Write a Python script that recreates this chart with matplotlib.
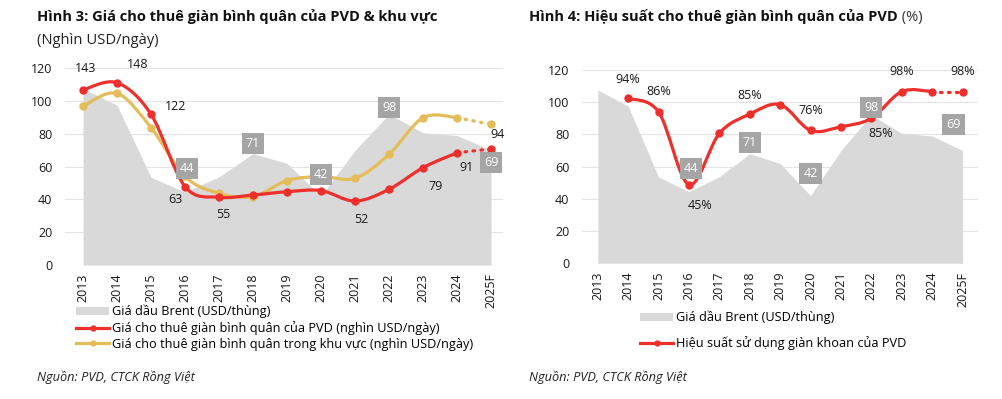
import numpy as np
import matplotlib
matplotlib.use("Agg")
import matplotlib.pyplot as plt
from matplotlib.path import Path
from matplotlib.patches import PathPatch, Patch
from matplotlib.lines import Line2D

plt.rcParams['font.family'] = ['Open Sans', 'DejaVu Sans']

# ---------------------------------------------------------
# data
# ---------------------------------------------------------
years = ["2013", "2014", "2015", "2016", "2017", "2018", "2019",
         "2020", "2021", "2022", "2023", "2024", "2025F"]

brent = [107.6, 97.5, 53.5, 44.5, 53.8, 68.0, 62.0, 42.0, 70.0, 92.0, 80.7, 79.0, 70.0]

# left chart: plotted heights (chart units) and label text
pvd_rate = [106.8, 111.2, 91.9, 47.8, 41.3, 42.7, 44.7, 45.4, 39.0, 46.2, 59.4, 68.5, 70.8]
region_rate = [97.0, 104.7, 83.8, 54.0, 43.7, 41.7, 51.5, 54.0, 52.9, 67.5, 89.9, 89.9, 85.8]
pvd_rate_lbl_idx = [0, 1, 2, 3, 4, 8, 10, 11, 12]
pvd_rate_lbl = ["143", "148", "122", "63", "55", "52", "79", "91", "94"]

# right chart: utilization (chart units), 2013 has no value
util_years = years[1:]
util = [102.4, 94.0, 48.8, 80.7, 92.6, 98.5, 82.5, 84.8, 90.0, 106.6, 106.6, 106.6]
util_lbl_idx = [1, 2, 3, 5, 7, 9, 10, 12]
util_lbl = ["94%", "86%", "45%", "85%", "76%", "85%", "98%", "98%"]

brent_lbl_idx = [3, 5, 7, 9, 12]
brent_lbl = ["44", "71", "42", "98", "69"]

RED = "#ee2f2b"
YEL = "#e4bd59"
AREA = "#d9d9d9"
BOX = "#a5a5a5"
TXT = "#1a1a1a"
FS = 9

# label offsets in pixels (dx, dy), up is positive
off_left_red = [(3, 21), (21, 18), (25, 8), (-10, -13), (4, -17), (6, -18), (12, -19), (9, -15), (6, 14)]
off_left_box = [(2, 24), (0, 10), (0, 22), (0, 7), (0, -12)]
off_right_red = [(0, 19), (0, 20), (11, -21), (0, 19), (0, 20), (9, -15), (0, 20), (0, 20)]
off_right_box = [(2, 23), (0, 11), (0, 22), (0, 8), (-9, 26)]

W, H = 1003, 399
fig = plt.figure(figsize=(W / 100, H / 100), dpi=100)


def ax_rect(x0, x1, ytop, ybot):
    return [x0 / W, 1 - ybot / H, (x1 - x0) / W, (ybot - ytop) / H]


def smooth_path(xs, ys):
    # excel-like smoothed line as cubic bezier through the points
    n = len(xs)
    verts = [(xs[0], ys[0])]
    codes = [Path.MOVETO]
    for i in range(n - 1):
        a = max(i - 1, 0)
        b = min(i + 2, n - 1)
        c1 = (xs[i] + (xs[i + 1] - xs[a]) / 6, ys[i] + (ys[i + 1] - ys[a]) / 6)
        c2 = (xs[i + 1] - (xs[b] - xs[i]) / 6, ys[i + 1] - (ys[b] - ys[i]) / 6)
        verts += [c1, c2, (xs[i + 1], ys[i + 1])]
        codes += [Path.CURVE4] * 3
    return Path(verts, codes)


def draw_series(ax, xs, ys, color):
    xs = list(xs)
    ys = list(ys)
    ax.add_patch(PathPatch(smooth_path(xs[:-1], ys[:-1]), fill=False,
                           edgecolor=color, lw=2.3, zorder=4, capstyle='round'))
    ax.plot(xs[-2:], ys[-2:], color=color, lw=2.3, ls=(0, (0.5, 2.0)),
            dash_capstyle='round', zorder=4)
    ax.plot(xs, ys, 'o', color=color, ms=6, zorder=5, mec='none')


def setup(ax, xmax):
    ax.set_ylim(0, 120)
    ax.set_xlim(-0.53, xmax)
    ax.set_yticks(range(0, 121, 20))
    ax.set_xticks(range(len(years)))
    ax.set_xticklabels(years, rotation=90)
    ax.tick_params(axis='both', length=0, labelsize=FS, colors=TXT)
    ax.tick_params(axis='y', pad=9)
    ax.tick_params(axis='x', pad=6)
    ax.grid(axis='y', color='#e4e4e4', lw=0.8)
    ax.set_axisbelow(True)
    for s in ax.spines.values():
        s.set_visible(False)


def box_labels(ax, idx, texts, offs):
    for i, t, (dx, dy) in zip(idx, texts, offs):
        ax.annotate(t, (i, brent[i]), xytext=(dx, dy), textcoords='offset pixels',
                    ha='center', va='center', fontsize=FS, color='white', zorder=6,
                    bbox=dict(boxstyle='square,pad=0.32', fc=BOX, ec='none'),
                    annotation_clip=False)


x = np.arange(len(years))

# ---------------- left chart ----------------
ax1 = fig.add_axes(ax_rect(65, 503, 68.3, 265))
setup(ax1, 12.35)
ax1.fill_between(x, brent, color=AREA, lw=0, zorder=2)
draw_series(ax1, x, region_rate, YEL)
draw_series(ax1, x, pvd_rate, RED)
for i, t, (dx, dy) in zip(pvd_rate_lbl_idx, pvd_rate_lbl, off_left_red):
    ax1.annotate(t, (i, pvd_rate[i]), xytext=(dx, dy), textcoords='offset pixels',
                 ha='center', va='center', fontsize=FS, color=TXT, zorder=7,
                 annotation_clip=False)
box_labels(ax1, brent_lbl_idx, brent_lbl, off_left_box)

# ---------------- right chart ----------------
ax2 = fig.add_axes(ax_rect(581.7, 978, 70, 263.3))
setup(ax2, 12.51)
ax2.fill_between(x, brent, color=AREA, lw=0, zorder=2)
xu = x[1:]
draw_series(ax2, xu, util, RED)
for i, t, (dx, dy) in zip(util_lbl_idx, util_lbl, off_right_red):
    ax2.annotate(t, (i, util[i - 1]), xytext=(dx, dy), textcoords='offset pixels',
                 ha='center', va='center', fontsize=FS, color=TXT, zorder=7,
                 annotation_clip=False)
box_labels(ax2, brent_lbl_idx, brent_lbl, off_right_box)

# ---------------- titles ----------------
fig.text(37 / W, 1 - 17 / H, "Hình 3: Giá cho thuê giàn bình quân của PVD & khu vực",
         fontsize=10.5, fontweight='bold', va='center', ha='left', color='#111111')
fig.text(37 / W, 1 - 41 / H, "(Nghìn USD/ngày)", fontsize=10.6, va='center', ha='left',
         color='#222222')
t4 = fig.text(529 / W, 1 - 17 / H, "Hình 4: Hiệu suất cho thuê giàn bình quân của PVD",
              fontsize=10.5, fontweight='bold', va='center', ha='left', color='#111111')
fig.text(0, 0, "", )
ann = plt.annotate(" (%)", xy=(1, 0.5), xycoords=t4, ha='left', va='center',
                   fontsize=10.5, color='#333333')

# ---------------- legends ----------------
h_area = Patch(fc=AREA, ec='none')
h_red = Line2D([], [], color=RED, lw=2.3, marker='o', ms=3.5)
h_yel = Line2D([], [], color=YEL, lw=2.3, marker='o', ms=3.5)

fig.legend([h_area, h_red, h_yel],
           ["Giá dầu Brent (USD/thùng)",
            "Giá cho thuê giàn bình quân của PVD (nghìn USD/ngày)",
            "Giá cho thuê giàn bình quân trong khu vực (nghìn USD/ngày)"],
           loc='upper left', bbox_to_anchor=(76 / W, 1 - 305 / H), frameon=False,
           fontsize=9.2, handlelength=2.6, handleheight=0.6, handletextpad=0.2,
           labelspacing=0.2, borderpad=0, borderaxespad=0)

fig.legend([h_area, h_red],
           ["Giá dầu Brent (USD/thùng)", "Hiệu suất sử dụng giàn khoan của PVD"],
           loc='upper left', bbox_to_anchor=(640 / W, 1 - 311 / H), frameon=False,
           fontsize=9.2, handlelength=2.6, handleheight=0.6, handletextpad=0.2,
           labelspacing=0.9, borderpad=0, borderaxespad=0)

# ---------------- sources ----------------
fig.text(37 / W, 1 - 377 / H, "Nguồn: PVD, CTCK Rồng Việt", fontsize=9.2, style='italic',
         va='center', ha='left', color='#222222')
fig.text(529 / W, 1 - 377 / H, "Nguồn: PVD, CTCK Rồng Việt", fontsize=9.2, style='italic',
         va='center', ha='left', color='#222222')

fig.savefig("out.png", dpi=100)
